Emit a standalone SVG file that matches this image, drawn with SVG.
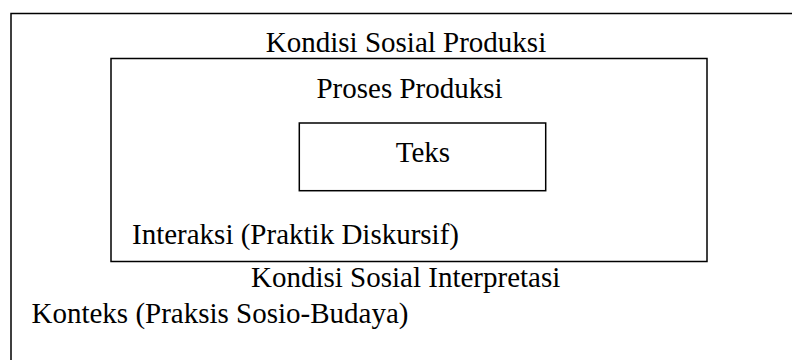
<svg xmlns="http://www.w3.org/2000/svg" width="792" height="360" viewBox="0 0 792 360">
  <style>
    .frame { fill: none; stroke: #000; stroke-width: 1.5; }
    .label { font-family: "Liberation Serif", "Times New Roman", serif; font-size: 29px; fill: #000; }
    .mid { text-anchor: middle; }
  </style>
  <rect width="792" height="360" fill="#fff"/>

  <!-- outermost layer: socio-cultural context (runs past the canvas edge) -->
  <g id="konteks">
    <rect class="frame" x="11" y="13.5" width="800" height="360"/>
    <text class="label mid" x="406" y="51.5">Kondisi Sosial Produksi</text>
    <text class="label" x="251" y="287">Kondisi Sosial Interpretasi</text>
    <text class="label" x="31.5" y="323">Konteks (Praksis Sosio-Budaya)</text>
  </g>

  <!-- middle layer: discursive practice -->
  <g id="interaksi">
    <rect class="frame" x="111" y="58.5" width="596" height="203"/>
    <text class="label mid" x="409.5" y="98">Proses Produksi</text>
    <text class="label" x="132" y="243.5">Interaksi (Praktik Diskursif)</text>
  </g>

  <!-- inner layer: the text itself -->
  <g id="teks">
    <rect class="frame" x="299.3" y="123" width="246.4" height="67.7"/>
    <text class="label mid" x="423" y="161.5">Teks</text>
  </g>

  <g id="connectors"/>
</svg>
